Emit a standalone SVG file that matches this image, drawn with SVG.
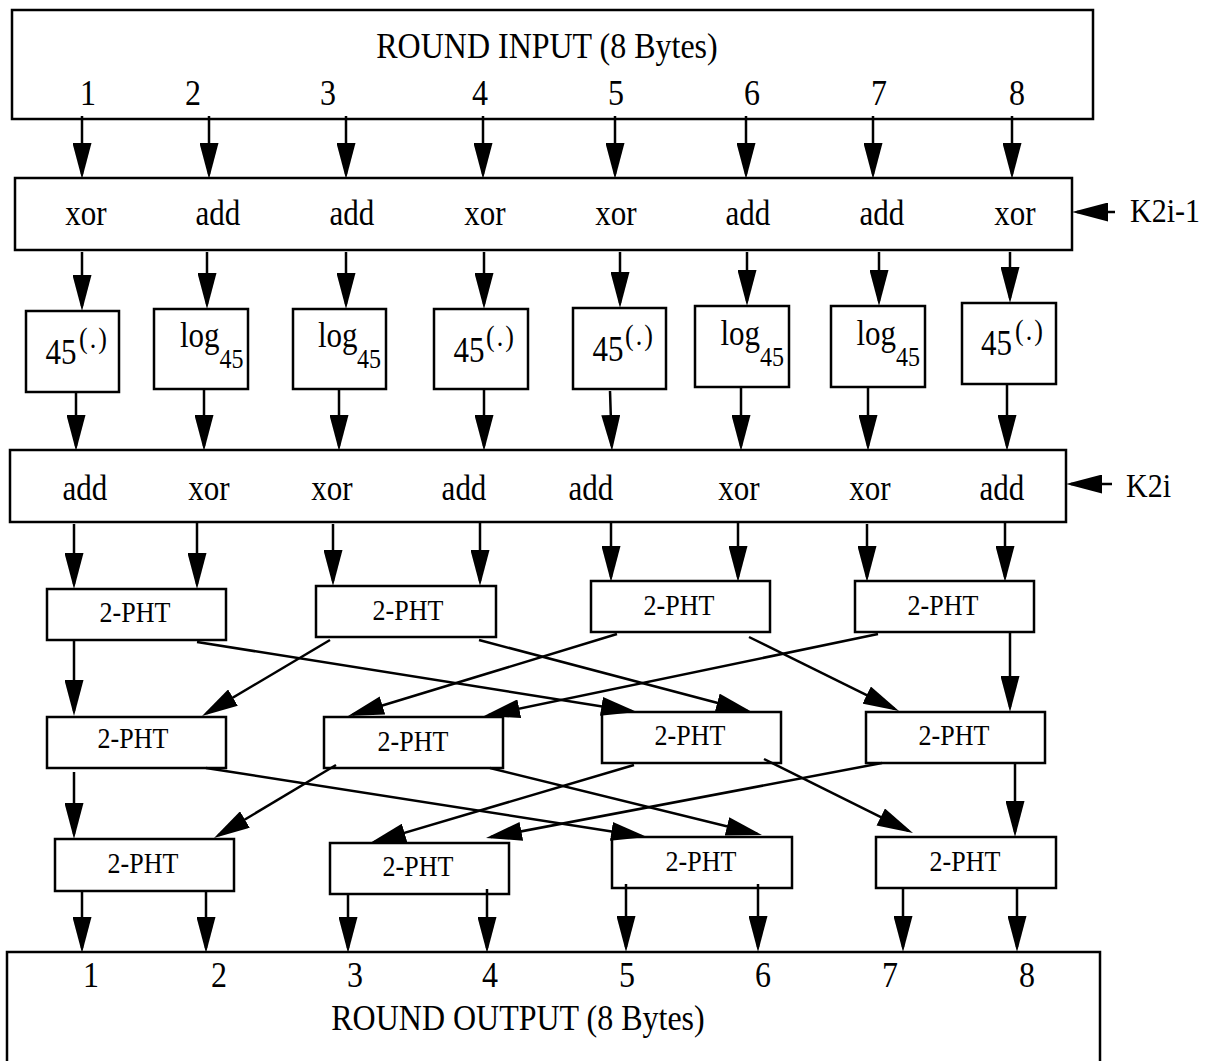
<svg xmlns="http://www.w3.org/2000/svg" width="1213" height="1061" viewBox="0 0 1213 1061">
<style>
.box{fill:#fff;stroke:#000;stroke-width:2.5}
.t{font-family:"Liberation Serif","Times New Roman",serif;fill:#000;transform-box:fill-box;transform-origin:50% 78%;transform:scaleY(1.13)}
.big{font-size:32px;text-anchor:middle}
.op{font-size:31px;text-anchor:middle}
.ph{font-size:26px;text-anchor:middle}
.k{font-size:30px}
.m{font-size:31px}
.sup{font-size:26px;letter-spacing:2px}
.sub{font-size:24px}
.c line{stroke:#000;stroke-width:2.5;marker-end:url(#ah)}
</style>
<defs>
<marker id="ah" markerUnits="userSpaceOnUse" markerWidth="36" markerHeight="19" refX="31" refY="9.5" orient="auto"><path d="M0,0 L36,9.5 L0,19 z" fill="#000"/></marker>
</defs>
<rect width="1213" height="1061" fill="#fff"/>

<g id="round-input">
<rect class="box" x="12" y="10" width="1081" height="109"/>
<text class="t big" x="547" y="58">ROUND INPUT (8 Bytes)</text>
<text class="t big" x="88" y="105">1</text>
<text class="t big" x="193" y="105">2</text>
<text class="t big" x="328" y="105">3</text>
<text class="t big" x="480" y="105">4</text>
<text class="t big" x="616" y="105">5</text>
<text class="t big" x="752" y="105">6</text>
<text class="t big" x="879" y="105">7</text>
<text class="t big" x="1017" y="105">8</text>
</g>

<g id="mix1">
<rect class="box" x="15" y="178" width="1057" height="72"/>
<text class="t op" x="86" y="225">xor</text>
<text class="t op" x="218" y="225">add</text>
<text class="t op" x="352" y="225">add</text>
<text class="t op" x="485" y="225">xor</text>
<text class="t op" x="616" y="225">xor</text>
<text class="t op" x="748" y="225">add</text>
<text class="t op" x="882" y="225">add</text>
<text class="t op" x="1015" y="225">xor</text>
</g>
<g id="key1"><text class="t k" x="1130" y="222">K2i-1</text></g>

<g id="s1"><rect class="box" x="26" y="311" width="93" height="81"/><text class="t m" x="45.5" y="364">45</text><text class="t sup" x="79" y="348">(.)</text></g>
<g id="s2"><rect class="box" x="154" y="309" width="94" height="80"/><text class="t m" x="180" y="347">log</text><text class="t sub" x="219.5" y="368">45</text></g>
<g id="s3"><rect class="box" x="293" y="309" width="93" height="80"/><text class="t m" x="318" y="347">log</text><text class="t sub" x="357" y="368">45</text></g>
<g id="s4"><rect class="box" x="434" y="309" width="94" height="80"/><text class="t m" x="453.5" y="362">45</text><text class="t sup" x="486" y="346">(.)</text></g>
<g id="s5"><rect class="box" x="573" y="308" width="93" height="81"/><text class="t m" x="592.5" y="361">45</text><text class="t sup" x="625" y="345">(.)</text></g>
<g id="s6"><rect class="box" x="695" y="306" width="94" height="81"/><text class="t m" x="720.5" y="345">log</text><text class="t sub" x="760" y="366">45</text></g>
<g id="s7"><rect class="box" x="831" y="306" width="94" height="81"/><text class="t m" x="856.5" y="345">log</text><text class="t sub" x="896" y="366">45</text></g>
<g id="s8"><rect class="box" x="962" y="303" width="94" height="81"/><text class="t m" x="981" y="355">45</text><text class="t sup" x="1015" y="340">(.)</text></g>

<g id="mix2">
<rect class="box" x="10" y="450" width="1056" height="72"/>
<text class="t op" x="85" y="500">add</text>
<text class="t op" x="209" y="500">xor</text>
<text class="t op" x="332" y="500">xor</text>
<text class="t op" x="464" y="500">add</text>
<text class="t op" x="591" y="500">add</text>
<text class="t op" x="739" y="500">xor</text>
<text class="t op" x="870" y="500">xor</text>
<text class="t op" x="1002" y="500">add</text>
</g>
<g id="key2"><text class="t k" x="1126" y="497">K2i</text></g>

<g id="phtA"><rect class="box" x="47" y="589" width="179" height="51"/><text class="t ph" x="135" y="622">2-PHT</text></g>
<g id="phtB"><rect class="box" x="316" y="586" width="180" height="51"/><text class="t ph" x="408" y="620">2-PHT</text></g>
<g id="phtC"><rect class="box" x="591" y="581" width="179" height="51"/><text class="t ph" x="679" y="615">2-PHT</text></g>
<g id="phtD"><rect class="box" x="855" y="581" width="179" height="51"/><text class="t ph" x="943" y="615">2-PHT</text></g>
<g id="phtE"><rect class="box" x="47" y="717" width="179" height="51"/><text class="t ph" x="133" y="748">2-PHT</text></g>
<g id="phtF"><rect class="box" x="324" y="717" width="179" height="51"/><text class="t ph" x="413" y="751">2-PHT</text></g>
<g id="phtG"><rect class="box" x="602" y="712" width="179" height="51"/><text class="t ph" x="690" y="745">2-PHT</text></g>
<g id="phtH"><rect class="box" x="866" y="712" width="179" height="51"/><text class="t ph" x="954" y="745">2-PHT</text></g>
<g id="phtI"><rect class="box" x="55" y="839" width="179" height="52"/><text class="t ph" x="143" y="873">2-PHT</text></g>
<g id="phtJ"><rect class="box" x="330" y="843" width="179" height="51"/><text class="t ph" x="418" y="876">2-PHT</text></g>
<g id="phtK"><rect class="box" x="612" y="837" width="180" height="51"/><text class="t ph" x="701" y="871">2-PHT</text></g>
<g id="phtL"><rect class="box" x="876" y="837" width="180" height="51"/><text class="t ph" x="965" y="871">2-PHT</text></g>

<g id="round-output">
<rect class="box" x="7" y="952" width="1093" height="140"/>
<text class="t big" x="91" y="987">1</text>
<text class="t big" x="219" y="987">2</text>
<text class="t big" x="355" y="987">3</text>
<text class="t big" x="490" y="987">4</text>
<text class="t big" x="627" y="987">5</text>
<text class="t big" x="763" y="987">6</text>
<text class="t big" x="890" y="987">7</text>
<text class="t big" x="1027" y="987">8</text>
<text class="t big" x="518" y="1030">ROUND OUTPUT (8 Bytes)</text>
</g>

<g id="connectors" class="c">
<line x1="82" y1="116" x2="82" y2="174"/>
<line x1="209" y1="116" x2="209" y2="174"/>
<line x1="346" y1="116" x2="346" y2="174"/>
<line x1="483" y1="116" x2="483" y2="174"/>
<line x1="615" y1="116" x2="615" y2="174"/>
<line x1="746" y1="116" x2="746" y2="174"/>
<line x1="873" y1="116" x2="873" y2="174"/>
<line x1="1012" y1="116" x2="1012" y2="174"/>
<line x1="1115" y1="212" x2="1077" y2="212"/>

<line x1="82" y1="252" x2="82" y2="306"/>
<line x1="207" y1="252" x2="207" y2="304"/>
<line x1="346" y1="252" x2="346" y2="304"/>
<line x1="484" y1="252" x2="484" y2="304"/>
<line x1="620" y1="252" x2="620" y2="303"/>
<line x1="747" y1="252" x2="747" y2="301"/>
<line x1="879" y1="252" x2="879" y2="301"/>
<line x1="1010" y1="252" x2="1010" y2="298"/>

<line x1="76" y1="392" x2="76" y2="446"/>
<line x1="204" y1="389" x2="204" y2="446"/>
<line x1="339" y1="389" x2="339" y2="446"/>
<line x1="484" y1="389" x2="484" y2="446"/>
<line x1="610" y1="391" x2="611.8" y2="446"/>
<line x1="741" y1="387" x2="741" y2="446"/>
<line x1="868" y1="387" x2="868" y2="446"/>
<line x1="1007" y1="384" x2="1007" y2="446"/>
<line x1="1112" y1="484" x2="1071" y2="484"/>

<line x1="74" y1="524" x2="74" y2="584"/>
<line x1="197" y1="522" x2="197" y2="584"/>
<line x1="333" y1="524" x2="333" y2="581"/>
<line x1="480" y1="522" x2="480" y2="581"/>
<line x1="611" y1="522" x2="611" y2="577"/>
<line x1="738" y1="522" x2="738" y2="577"/>
<line x1="867" y1="524" x2="867" y2="577"/>
<line x1="1005" y1="522" x2="1005" y2="577"/>

<line x1="74" y1="641" x2="74" y2="711"/>
<line x1="197" y1="642" x2="632.1" y2="711.2"/>
<line x1="330" y1="640" x2="206.3" y2="713.4"/>
<line x1="479" y1="640" x2="747.2" y2="710.7"/>
<line x1="617" y1="634" x2="352.8" y2="714.5"/>
<line x1="749" y1="637" x2="894.5" y2="708.8"/>
<line x1="878" y1="634" x2="488.9" y2="715"/>
<line x1="1010" y1="633" x2="1010" y2="707"/>

<line x1="74" y1="772" x2="74" y2="834"/>
<line x1="206" y1="768" x2="642.1" y2="836.2"/>
<line x1="336" y1="765" x2="218.3" y2="835.4"/>
<line x1="490" y1="768" x2="757.1" y2="833.8"/>
<line x1="634" y1="765" x2="374.8" y2="841.6"/>
<line x1="764" y1="759" x2="908.5" y2="830.8"/>
<line x1="882" y1="763" x2="490.9" y2="837.1"/>
<line x1="1015" y1="763" x2="1015" y2="832"/>

<line x1="82" y1="891" x2="82" y2="948"/>
<line x1="206" y1="890" x2="206" y2="948"/>
<line x1="348" y1="893" x2="348" y2="948"/>
<line x1="487" y1="889" x2="487" y2="948"/>
<line x1="626" y1="884" x2="626" y2="947"/>
<line x1="758" y1="884" x2="758" y2="947"/>
<line x1="903" y1="887" x2="903" y2="947"/>
<line x1="1017" y1="887" x2="1017" y2="947"/>
</g>
</svg>
